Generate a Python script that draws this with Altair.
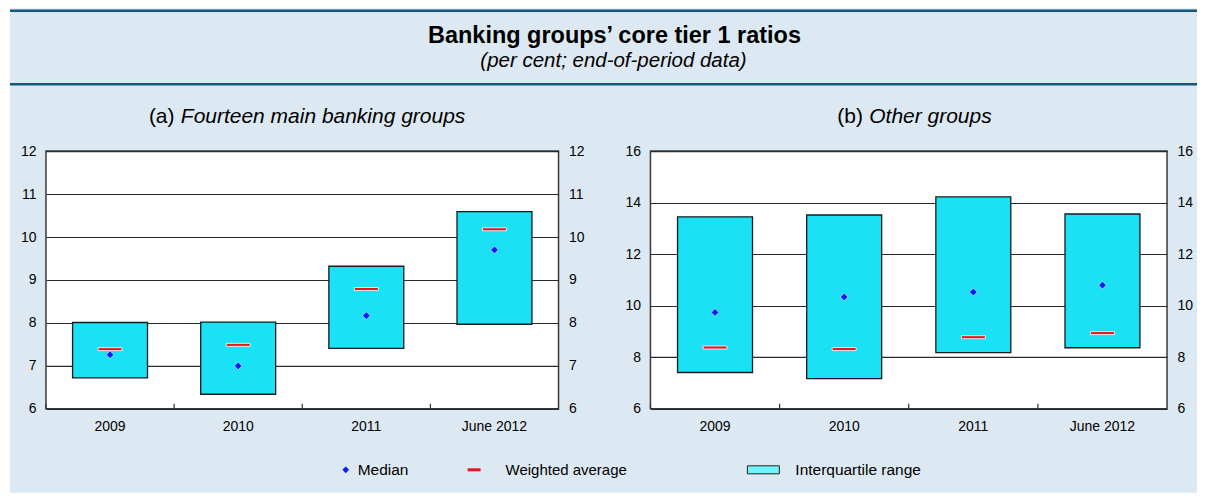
import altair as alt
import pandas as pd

# ---- data ----
periods = ["2009", "2010", "2011", "June 2012"]

# (a) Fourteen main banking groups
a_q1 = [6.72, 6.34, 7.41, 7.97]
a_q3 = [8.01, 8.02, 9.32, 10.59]
a_wavg = [7.39, 7.49, 8.79, 10.18]
a_median = [7.26, 7.00, 8.17, 9.70]

# (b) Other groups
b_q1 = [7.41, 7.17, 8.18, 8.37]
b_q3 = [13.45, 13.52, 14.22, 13.56]
b_wavg = [8.38, 8.32, 8.78, 8.94]
b_median = [9.74, 10.34, 10.53, 10.80]

title_text = "Banking groups\u2019 core tier 1 ratios"
subtitle_text = "(per cent; end-of-period data)"
panel_a_tag, panel_a_name = "(a)", "Fourteen main banking groups"
panel_b_tag, panel_b_name = "(b)", "Other groups"
legend_labels = ["Median", "Weighted average", "Interquartile range"]

FONT = "Liberation Sans"
BOX_FILL = "#1ae1f5"
RED = "#e8141b"
BLUE = "#0a1eff"
BG = "#dde9f2"
DARK = "#13577f"
H = 258

dfA = pd.DataFrame({"period": periods, "q1": a_q1, "q3": a_q3, "wavg": a_wavg, "median": a_median})
dfB = pd.DataFrame({"period": periods, "q1": b_q1, "q3": b_q3, "wavg": b_wavg, "median": b_median})


def panel(df, lo, hi, step, width):
    base = alt.Chart(df)
    ysc = alt.Scale(domain=[lo, hi], nice=False, zero=False)
    vals = list(range(lo, hi + 1, step))
    xsc = alt.Scale(paddingInner=0, paddingOuter=0)
    xenc = alt.X("period:N", sort=periods, scale=xsc,
                 axis=alt.Axis(title=None, labelAngle=0, ticks=False, domain=False,
                               labelPadding=11, labelFontSize=14, labelFont=FONT,
                               labelColor="#000"))
    xplain = alt.X("period:N", sort=periods, scale=xsc)
    bars = base.mark_bar(size=75, fill=BOX_FILL, stroke="#1a1a1a", strokeWidth=1.3).encode(
        x=xenc,
        y=alt.Y("q1:Q", scale=ysc,
                axis=alt.Axis(orient="left", values=vals, grid=True, gridColor="#2a2a2a",
                              gridWidth=1.1, tickSize=0, domain=False, labelPadding=10,
                              labelFontSize=14, labelFont=FONT, labelColor="#000", title=None)),
        y2="q3:Q",
    )
    wa = base.mark_tick(size=24, thickness=3, color=RED, stroke="white", strokeWidth=0.8,
                        opacity=1).encode(
        x=xplain, y=alt.Y("wavg:Q", scale=ysc, axis=None))
    med = base.mark_point(shape="diamond", filled=True, size=60, color=BLUE, stroke="white",
                          strokeWidth=0.6, opacity=1).encode(
        x=xplain,
        y=alt.Y("median:Q", scale=ysc,
                axis=alt.Axis(orient="right", values=vals, grid=False, tickSize=0, domain=False,
                              labelPadding=10, labelFontSize=14, labelFont=FONT,
                              labelColor="#000", title=None)))
    tk = base.mark_rule(color="#333", strokeWidth=1.2).encode(
        x=alt.X("period:N", sort=periods, scale=xsc, bandPosition=0),
        y=alt.value(H - 5), y2=alt.value(H))
    return alt.layer(bars, wa, med, tk).resolve_axis(y="independent").properties(
        width=width, height=H,
        view=alt.ViewBackground(fill="white", stroke="#3a3a3a", strokeWidth=1.5))


panelA = panel(dfA, 6, 12, 1, 513)
panelB = panel(dfB, 6, 16, 2, 517)
row = alt.hconcat(panelA, panelB, spacing=92, bounds="flush")


def txt(s, x, y, size, align="left", weight="normal", style="normal"):
    return alt.Chart().mark_text(text=s, font=FONT, fontSize=size, fontWeight=weight,
                                 fontStyle=style, color="#000", align=align,
                                 baseline="middle").encode(x=alt.value(x), y=alt.value(y))


# ---- header (background, rules, titles, panel titles, legend) ----
bg = alt.Chart().mark_rect(fill=BG).encode(
    x=alt.value(-36), x2=alt.value(1152), y=alt.value(0), y2=alt.value(485))
rule1 = alt.Chart().mark_rule(color=DARK, strokeWidth=2.5).encode(
    x=alt.value(-36), x2=alt.value(1152), y=alt.value(2.5))
rule2 = alt.Chart().mark_rule(color=DARK, strokeWidth=2.5).encode(
    x=alt.value(-36), x2=alt.value(1152), y=alt.value(76))
t1 = txt(title_text, 569, 28, 23.5, align="center", weight="bold")
t2 = txt(subtitle_text, 568, 53, 20.5, align="center", style="italic")
pa1 = txt(panel_a_tag, 103, 109, 21)
pa2 = txt(panel_a_name, 135, 109, 21, style="italic")
pb1 = txt(panel_b_tag, 792, 109, 21)
pb2 = txt(panel_b_name, 824, 109, 21, style="italic")

LY = 462
lg_d = alt.Chart().mark_point(shape="diamond", filled=True, size=45, color=BLUE, opacity=1).encode(
    x=alt.value(300), y=alt.value(LY))
lg_t1 = txt(legend_labels[0], 312, LY, 15.5)
lg_r = alt.Chart().mark_rule(color=RED, strokeWidth=3).encode(
    x=alt.value(422), x2=alt.value(435), y=alt.value(LY))
lg_t2 = txt(legend_labels[1], 460, LY, 15)
lg_b = alt.Chart().mark_rect(fill="#6ff5fb", stroke="#222", strokeWidth=1).encode(
    x=alt.value(702), x2=alt.value(734), y=alt.value(LY - 4), y2=alt.value(LY + 4))
lg_t3 = txt(legend_labels[2], 750, LY, 15.5)

header = alt.layer(bg, rule1, rule2, t1, t2, pa1, pa2, pb1, pb2,
                   lg_d, lg_t1, lg_r, lg_t2, lg_b, lg_t3).properties(width=1122, height=143)

chart = alt.vconcat(header, row, spacing=0, bounds="flush", padding=0,
                    background="white").configure_view(strokeWidth=0)

chart.save("out.html", embed_options={"renderer": "svg", "actions": False})
